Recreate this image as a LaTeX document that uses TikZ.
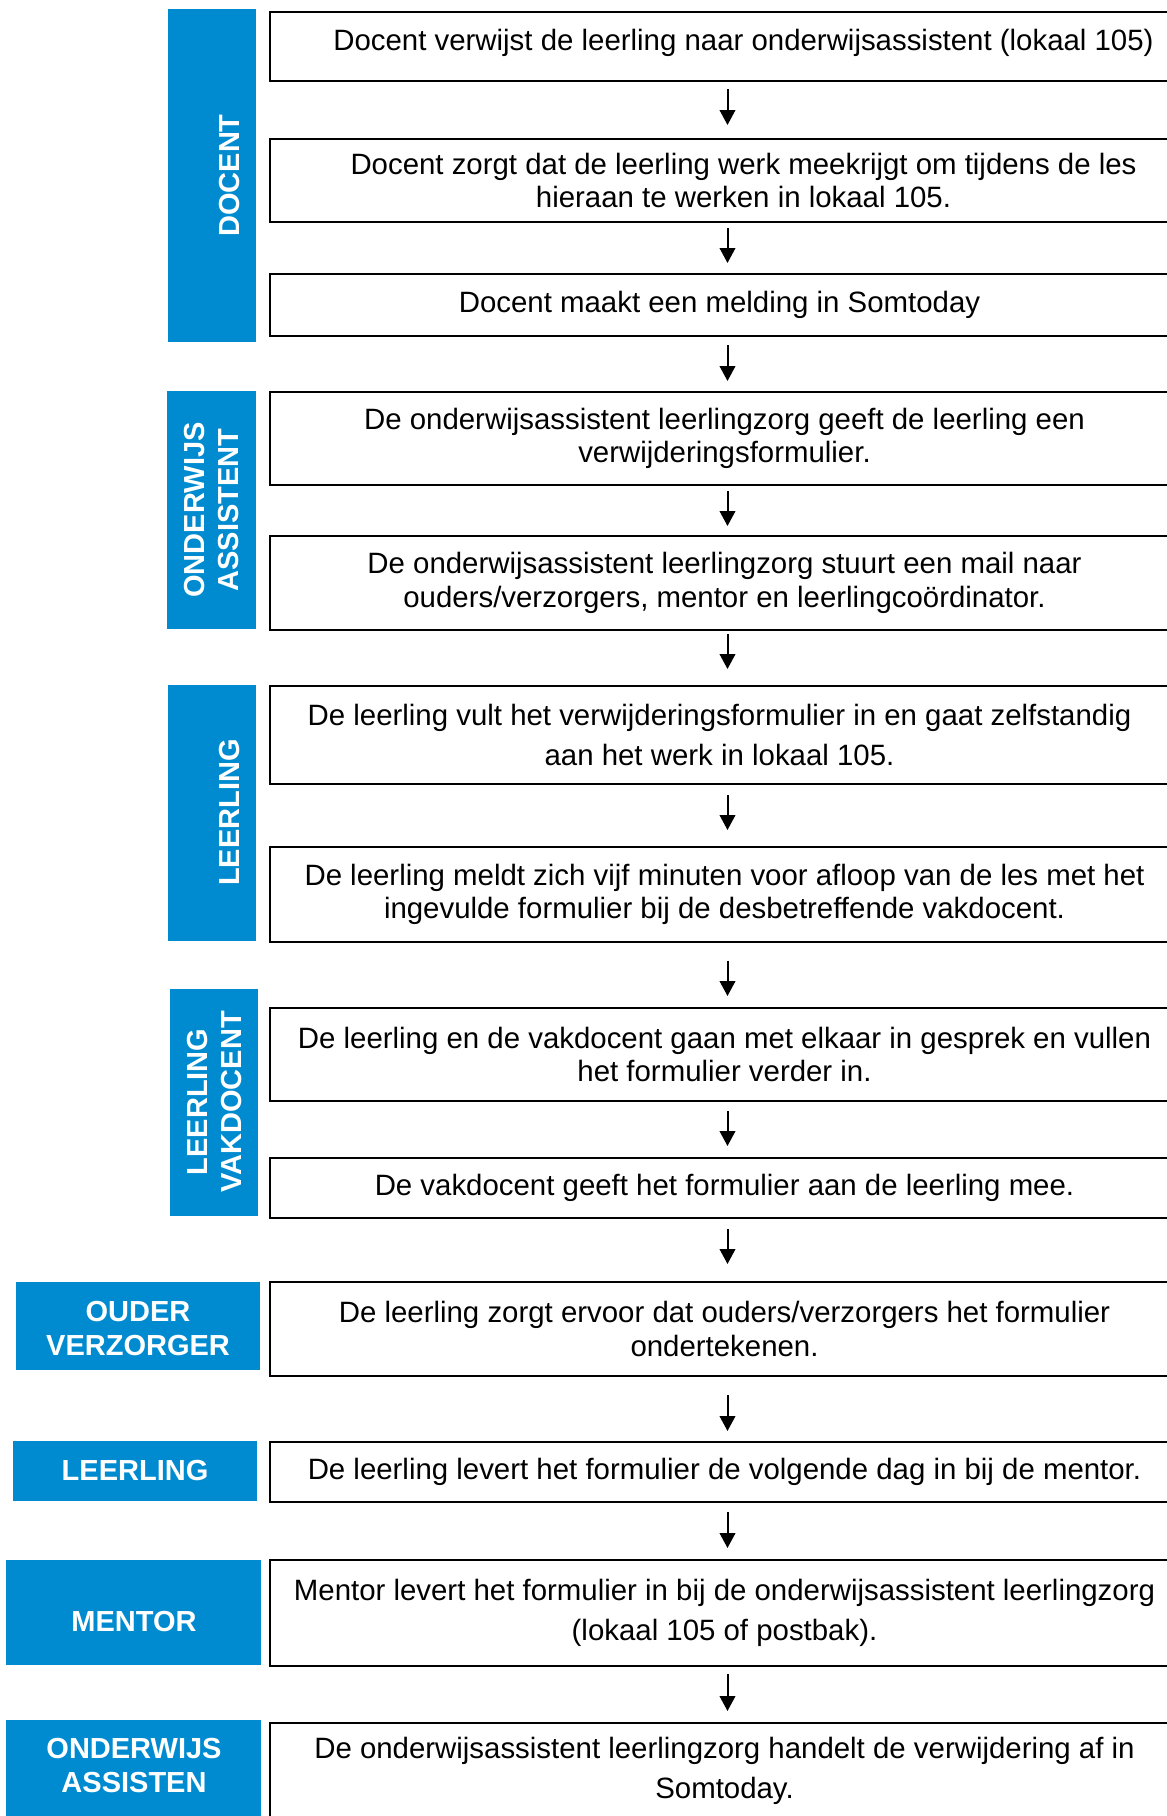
\documentclass[tikz,border=0pt]{standalone}
\usepackage{fontspec}
\setmainfont{Liberation Sans}
\usetikzlibrary{arrows.meta}
\definecolor{laneblue}{RGB}{0, 139, 209}
\tikzset{
  stepbox/.style={draw=black, line width=1pt, anchor=north west, inner sep=0pt, align=center, font=\fontsize{14.7}{16.8}\selectfont},
  lane/.style={fill=laneblue, anchor=north west, inner sep=0pt},
  lanetext/.style={text=white, align=center, inner sep=0pt, font=\fontsize{14.5}{17}\selectfont\bfseries},
  flowarrow/.style={line width=1pt, -{Triangle[width=7.8pt, length=7.5pt]}}
}

\begin{document}
\begin{tikzpicture}[x=0.5pt, y=-0.5pt]
  \useasboundingbox (0,0) rectangle (1167,1816);
  \clip (0,0) rectangle (1167,1816);

  % Lanes
  \node[lane, minimum width=44pt, minimum height=166.5pt] (lDocent) at (168,9) {};
  \node[lane, minimum width=44.5pt, minimum height=119pt] (lOnderwijs) at (167,391) {};
  \node[lane, minimum width=44pt, minimum height=127.85pt] (lLeerling) at (168,685) {};
  \node[lane, minimum width=43.85pt, minimum height=113.35pt] (lVak) at (170,989) {};
  \node[lane, minimum width=122pt, minimum height=44pt] (lOuder) at (16,1282) {};
  \node[lane, minimum width=122pt, minimum height=29.85pt] (lLeerlingB) at (13,1441) {};
  \node[lane, minimum width=127.5pt, minimum height=52.5pt] (lMentor) at (6,1560) {};
  \node[lane, minimum width=127.5pt, minimum height=50pt] (lOnderwijsB) at (6,1720) {};

  % Lane texts
  \node[lanetext, rotate=90] (tDocent) at (229.7,175.5) {DOCENT};
  \node[lanetext, rotate=90] (tOnderwijs) at (212,510) {ONDERWIJS\\ASSISTENT};
  \node[lanetext, rotate=90] (tLeerling) at (229.7,812.5) {LEERLING};
  \node[lanetext, rotate=90] (tVak) at (214.7,1102) {LEERLING\\VAKDOCENT};
  \node[lanetext] (tOuder) at (138,1328) {OUDER\\VERZORGER};
  \node[lanetext] (tLeerlingB) at (135,1470) {LEERLING};
  \node[lanetext] (tMentor) at (134,1621) {MENTOR};
  \node[lanetext] (tOnderwijsB) at (134,1765) {ONDERWIJS\\ASSISTEN};

  % Steps
  \node[stepbox, minimum width=473.5pt, minimum height=34.5pt, text depth=6.5pt] (b1) at (269,11) {Docent verwijst de leerling naar onderwijsassistent (lokaal 105)};
  \node[stepbox, minimum width=473.5pt, minimum height=41.65pt] (b2) at (269,137.7) {Docent zorgt dat de leerling werk meekrijgt om tijdens de les\\hieraan te werken in lokaal 105.};
  \node[stepbox, minimum width=449.5pt, minimum height=31pt] (b3) at (269,273) {Docent maakt een melding in Somtoday};
  \node[stepbox, minimum width=454.5pt, minimum height=46.5pt] (b4) at (269,391) {De onderwijsassistent leerlingzorg geeft de leerling een\\verwijderingsformulier.};
  \node[stepbox, minimum width=454.5pt, minimum height=47pt] (b5) at (269,535) {De onderwijsassistent leerlingzorg stuurt een mail naar\\ouders/verzorgers, mentor en leerlingcoördinator.};
  \node[stepbox, minimum width=449.5pt, minimum height=49pt, font=\fontsize{14.7}{20}\selectfont] (b6) at (269,685) {De leerling vult het verwijderingsformulier in en gaat zelfstandig\\aan het werk in lokaal 105.};
  \node[stepbox, minimum width=454.5pt, minimum height=47.35pt] (b7) at (269,846) {De leerling meldt zich vijf minuten voor afloop van de les met het\\ingevulde formulier bij de desbetreffende vakdocent.};
  \node[stepbox, minimum width=454.5pt, minimum height=46.65pt] (b8) at (269,1006.7) {De leerling en de vakdocent gaan met elkaar in gesprek en vullen\\het formulier verder in.};
  \node[stepbox, minimum width=454.5pt, minimum height=30pt] (b9) at (269,1156.7) {De vakdocent geeft het formulier aan de leerling mee.};
  \node[stepbox, minimum width=454.5pt, minimum height=47pt] (b10) at (269,1281) {De leerling zorgt ervoor dat ouders/verzorgers het formulier\\ondertekenen.};
  \node[stepbox, minimum width=454.5pt, minimum height=30pt] (b11) at (269,1441) {De leerling levert het formulier de volgende dag in bij de mentor.};
  \node[stepbox, minimum width=454.5pt, minimum height=53pt, font=\fontsize{14.7}{20}\selectfont] (b12) at (269,1559) {Mentor levert het formulier in bij de onderwijsassistent leerlingzorg\\(lokaal 105 of postbak).};
  \node[stepbox, minimum width=454.5pt, minimum height=48.15pt, font=\fontsize{14.7}{20}\selectfont] (b13) at (269,1721.7) {De onderwijsassistent leerlingzorg handelt de verwijdering af in\\Somtoday.};

  % Arrows
  \coordinate (ax) at (727.5,0);
  \foreach \from/\to/\sa/\sb in {b1/b2/3.5/6.35, b2/b3/2.5/5, b3/b4/4/5, b4/b5/2.5/4.5,
      b5/b6/1.5/8, b6/b7/5/8, b7/b8/9/5.35, b8/b9/4.5/5.35, b9/b10/5/8.5,
      b10/b11/9/5, b11/b12/4.5/5.5, b12/b13/3.5/5.35}
    \draw[flowarrow, shorten <=\sa pt, shorten >=\sb pt] (\from.south -| ax) -- (\to.north -| ax);
\end{tikzpicture}
\end{document}
